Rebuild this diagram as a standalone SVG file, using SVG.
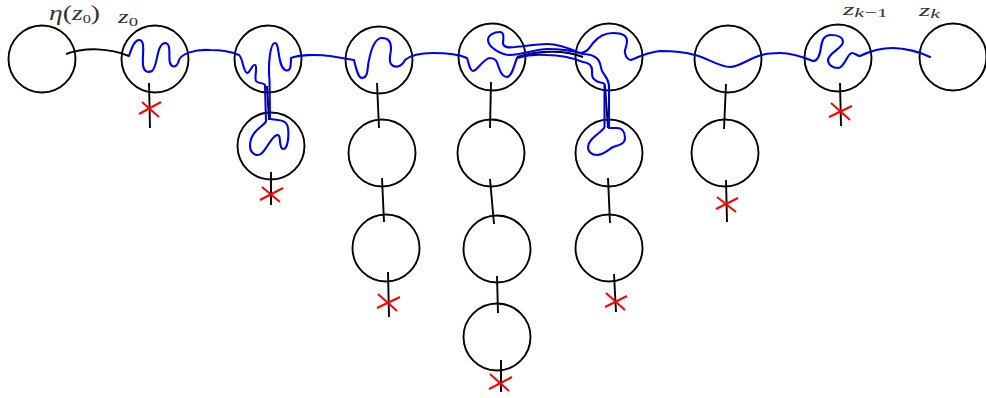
<svg xmlns="http://www.w3.org/2000/svg" width="986" height="398" viewBox="0 0 986 398">
<style>
.n{fill:none;stroke:#000;stroke-width:1.9}
.c{fill:none;stroke:#000;stroke-width:1.9;stroke-linecap:butt}
.b{fill:none;stroke:#0000f0;stroke-width:2.1;stroke-linejoin:round;stroke-linecap:round}
.x{fill:none;stroke:#f00;stroke-width:2}
text{font-family:"Liberation Serif",serif;font-style:italic;font-size:17px;fill:#333}
.s{font-size:13px}
.u{font-style:normal}
.l{font-size:22px}
.m{font-size:19px}
</style>
<rect width="986" height="398" fill="#fff"/>
<g id="n0"><circle class="n" cx="42" cy="59" r="33.5"/></g>
<g id="n1"><circle class="n" cx="155" cy="59" r="33.5"/></g>
<g id="n2"><circle class="n" cx="268" cy="59" r="33.5"/></g>
<g id="n2a"><circle class="n" cx="271" cy="146" r="33.5"/></g>
<g id="n3"><circle class="n" cx="379" cy="60" r="33.5"/></g>
<g id="n3a"><circle class="n" cx="382" cy="153" r="33.5"/></g>
<g id="n3b"><circle class="n" cx="386" cy="248" r="33.5"/></g>
<g id="n4"><circle class="n" cx="492" cy="57" r="33.5"/></g>
<g id="n4a"><circle class="n" cx="491" cy="153" r="33.5"/></g>
<g id="n4b"><circle class="n" cx="497" cy="249" r="33.5"/></g>
<g id="n4c"><circle class="n" cx="497" cy="337" r="33.5"/></g>
<g id="n5"><circle class="n" cx="609" cy="57" r="33.5"/></g>
<g id="n5a"><circle class="n" cx="609" cy="153" r="33.5"/></g>
<g id="n5b"><circle class="n" cx="609" cy="248" r="33.5"/></g>
<g id="n6"><circle class="n" cx="728" cy="59" r="33.5"/></g>
<g id="n6a"><circle class="n" cx="725" cy="153" r="33.5"/></g>
<g id="n7"><circle class="n" cx="838" cy="58" r="33.5"/></g>
<g id="n8"><circle class="n" cx="953" cy="57" r="33.5"/></g>
<g id="connectors">
<path class="c" d="M66,54C85,47 110,48 129,56"/>
<path class="c" d="M517,57C540,50 565,50 583,57"/>
<path class="c" d="M149,83L150,128M267,86L269,120M271,172L271,205M377,83L379,128M382,178L384,222M388,272L389,317M491,82L490,128M490,179L494,224M497,276L498,313M501,360L501,392M605,85L608,128M608,178L610,223M614,274L616,312M726,84L724,129M726,180L727,222M840,83L841,126"/>
<path class="b" d="M129,56C131,50 134,40 139,40C146,40 142,55 143,65C144,72 148,73 152,71C158,67 156,44 165,43C172,43 168,58 170,63C172,68 177,68 179,60C181,54 195,49 210,50C222,50 232,52 239,55C243,58 243,72 247,73C250,73 252,64 255,65C258,66 254,78 256,81C258,84 263,82 265,85L266,121C265,126 250,130 250,146C250,152 254,155 258,155C265,155 270,137 277,135C282,134 278,148 283,149C288,150 289,135 288,128C287,120 280,120 270,119L269.500,80C268,65 270,43 275,43C280,43 277,65 285,70C290,72 291,68 291,58C298,55 315,54 330,56L354,60C356,68 358,78 362,78C369,78 367,66 369,60C371,50 375,38 382,38C389,38 391,42 391,48C391,55 388,60 391,64C394,68 401,68 405,60C412,54 422,53 433,53C445,53 458,54 467,58C469,64 470,71 473,71C477,71 484,58 490,58C497,58 497,63 499,68C501,74 504,77 507,77C512,77 514,65 517,58C527,55 537,54 547,55C560,55 573,58 583,62C590,63 592,66 592,70C592,76 592,78 595,80C598,83 602,82 604.500,84L604.500,127C603,132 588,138 588,147C588,152 592,155 597,155C603,155 608,150 613,147C619,145 625,144 625,138C625,132 622,128 617,128L609,128L609,85C608,78 604,75 602,71C600,66 601,60 595,57C590,54 587,54 583,54C571,50 559,49 547,49C536,49 521,55 510,55C501,55 488,47 488,40C488,35 494,32 500,32C505,32 503,40 503,44C505,49 511,47 515,47C526,46 537,44 547,44C559,44 571,49 580,53C587,53 590,47 593,43C598,37 605,33 613,33C620,33 627,35 627,41C627,47 624,50 625,53C626,58 629,60 631,60C640,56 650,52 660,51C672,51 685,52 695,55C707,58 720,67 730,67C740,67 751,57 762,55C768,53 775,53 780,53C790,53 803,57 813,61C818,61 820,55 821,47C822,40 824,35 831,35C837,35 843,37 843,42C843,48 828,53 828,60C828,65 833,68 838,68C845,68 847,53 852,53C855,53 857,56 860,56C870,51 882,48 893,48C905,48 920,52 930,57"/>
</g>
<g id="crosses">
<path class="x" d="M139,114L161,102M142,102L159,117M260,200L283,188M262,187L280,202M377,308L400,297M378,294L397,311M489,389L512,377M490,374L509,391M605,307L627,296M606,293L625,310M716,209L738,198M717,197L736,212M829,117L852,106M831,103L850,120"/>
</g>
<g id="labels">
<text class="l" x="49" y="20" textLength="51" lengthAdjust="spacingAndGlyphs">η<tspan class="u">(</tspan>z<tspan class="s u" dy="3">0</tspan><tspan class="u" dy="-3">)</tspan></text>
<text class="m" x="118" y="23" textLength="20" lengthAdjust="spacingAndGlyphs">z<tspan class="s u" dy="3">0</tspan></text>
<text x="843" y="15" textLength="45" lengthAdjust="spacingAndGlyphs">z<tspan class="s" dy="2">k</tspan><tspan class="s u">−1</tspan></text>
<text x="919" y="16" textLength="21" lengthAdjust="spacingAndGlyphs">z<tspan class="s" dy="2">k</tspan></text>
</g>
</svg>
